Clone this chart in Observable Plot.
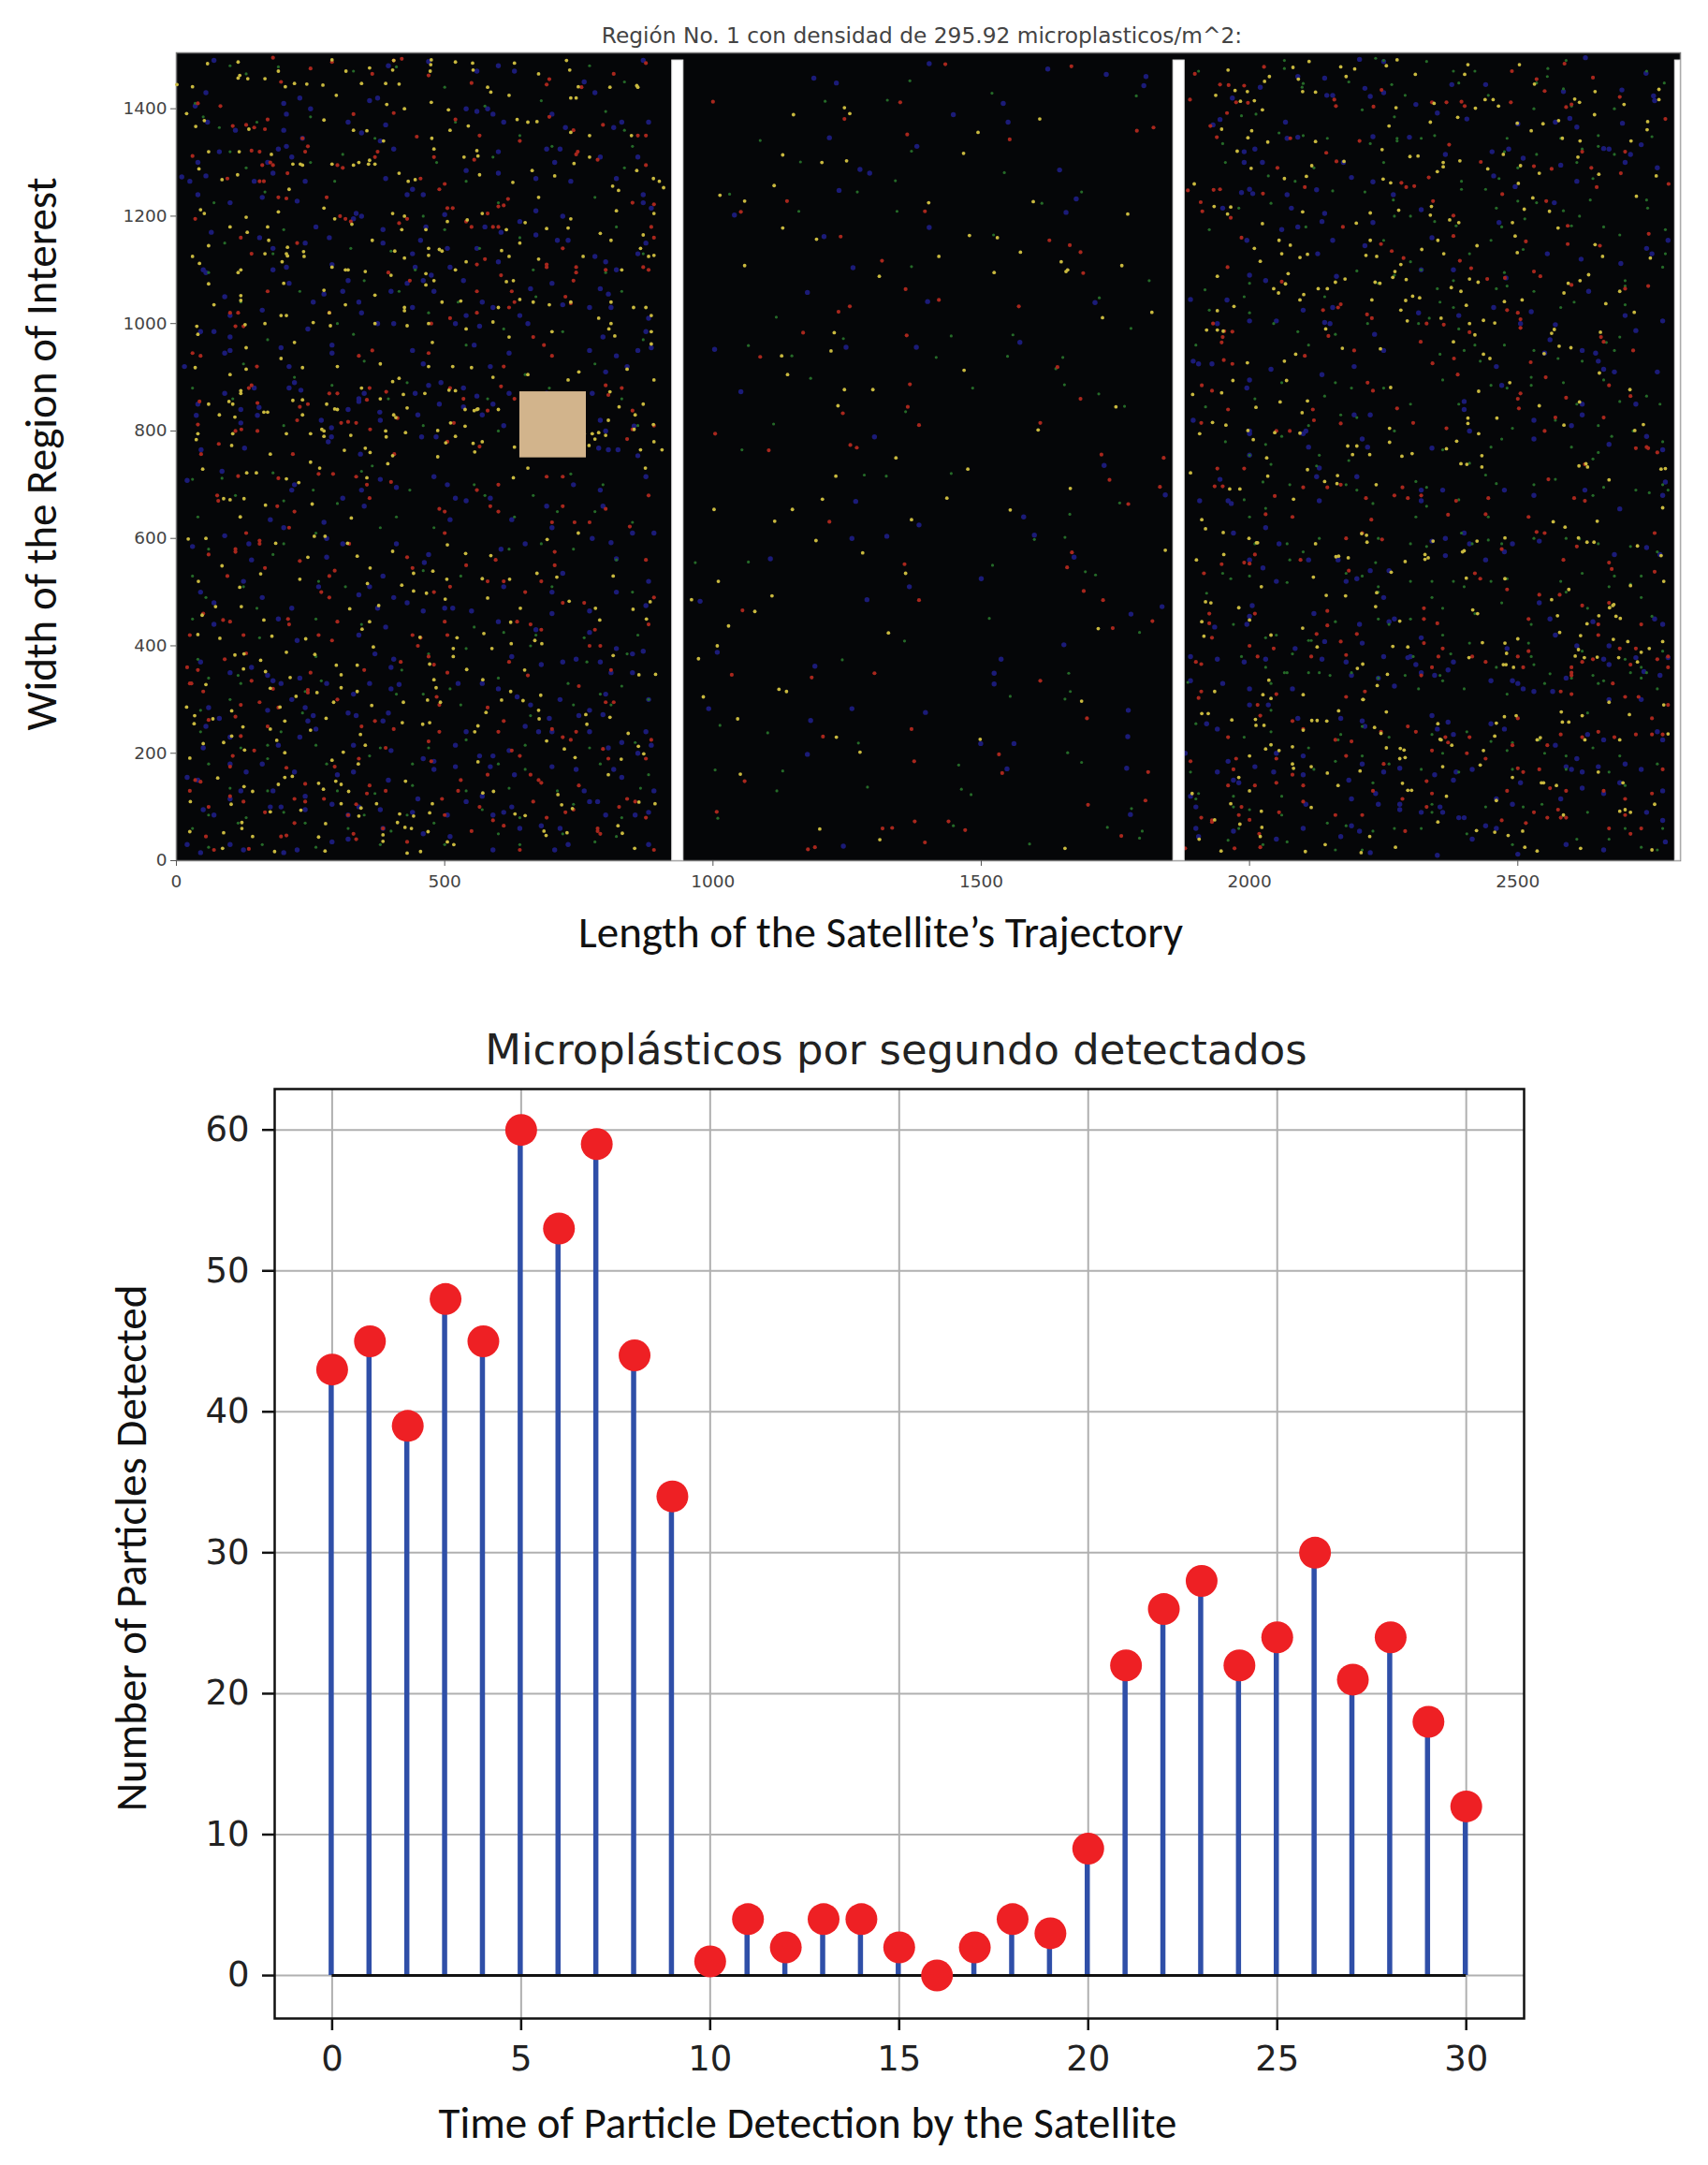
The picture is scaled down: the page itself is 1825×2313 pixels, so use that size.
<!DOCTYPE html>
<html>
<head>
<meta charset="utf-8">
<script src="https://cdn.jsdelivr.net/npm/d3@7"></script>
<script src="https://cdn.jsdelivr.net/npm/@observablehq/plot@0.6"></script>
<style>
html,body{margin:0;padding:0;background:#fff;}
svg{display:block;}
</style>
</head>
<body>
<div id="top"></div>
<div id="bottom"></div>
<script>
// ---------- Top panel ----------
const topTitle = "Región No. 1 con densidad de 295.92 microplasticos/m^2:";
const topXLabel = "Length of the Satellite’s Trajectory";
const topYLabel = "Width of the Region of Interest";
const topXTicks = [0,500,1000,1500,2000,2500];
const topYTicks = [0,200,400,600,800,1000,1200,1400];
const whiteBands = [[924,945],[1858,1879],[2793,2803]];
const tanSquare = [[640,764,750,873]];

const yellowDots = [
// middle band
[1245,1402],[1255,1391],[1150,1389],[1609,1381],[1494,1356],[1467,1317],[1130,1314],[1203,1300],[1249,1303],[1114,1257],[1013,1239],[1059,1228],[1402,1225],[1597,1227],[1773,1204],[1130,1178],[1193,1157],[1478,1164],[1530,1160],[1573,1133],[1421,1125],[1059,1108],[1649,1115],[1762,1108],[1524,1095],[1310,1088],[1661,1100],[1658,1097],[1818,1021],[1726,1011],[1226,983],[1220,949],[1128,940],[1139,905],[1468,913],[1245,877],[1298,877],[1233,847],[1751,845],[1606,802],[1341,750],
[1229,716],[1475,729],[1666,693],[1204,673],[1436,675],[1002,654],[1148,654],[1554,653],[1115,632],[1370,635],[1192,596],[1279,573],[1843,578],[1359,535],[1010,520],[960,486],[1110,493],[1078,464],[1029,437],[1327,424],[1718,432],[1008,400],[973,376],[1123,319],[1137,315],[982,305],[1046,264],[1687,297],[1230,230],[1498,226],[1274,202],[1051,161],[1199,59],[1311,39],[1656,23],
// right, upper
[1960,1472],[2111,1488],[2081,1477],[2037,1460],[2091,1455],[2028,1451],[1973,1434],[1996,1432],[1937,1425],[2009,1415],[1983,1414],[2099,1432],[2123,1431],[2170,1478],[2196,1474],[2180,1460],[2275,1491],[2255,1480],[2309,1464],[2407,1482],[2401,1464],[2503,1482],[2531,1446],[2644,1432],[2763,1436],[2763,1417],[2698,1408],[2615,1412],[2606,1418],[2439,1417],[2454,1417],[2464,1405],[2421,1401],[2344,1410],[2273,1402],[2388,1384],[2337,1375],[2260,1368],[2643,1389],[2742,1376],[2741,1361],[2499,1373],[2547,1372],[2576,1378],[2525,1359],[2583,1345],[2616,1340],[2711,1340],[2024,1398],[1948,1362],[2004,1359],[1997,1346],[2034,1338],[2123,1339],[1977,1321],[2003,1289],[2116,1294],[2247,1324],[2299,1311],[2314,1312],[2361,1300],[2361,1292],[2392,1303],[2176,1302],[2350,1283],[2473,1315],[2612,1310],[2505,1294],[2444,1288],[2540,1280],[2651,1278],[2758,1275],[1897,1260],[2065,1270],[2106,1274],[2249,1269],[2263,1262],[2501,1261],[2528,1234],[2721,1237],[1934,1218],[1965,1217],[1959,1204],[2099,1208],[2225,1206],[2278,1211],[2339,1218],[2337,1202],[2373,1193],[2390,1188],[2512,1213],[2559,1209],[2024,1186],[2199,1187],[2490,1188],[2575,1178],[2055,1155],[2225,1155],[2351,1155],[2495,1163],[2009,1140],[2076,1146],[2321,1138],[2424,1145],[2644,1147],[2060,1130],[2108,1129],[2094,1123],[2217,1127],[2237,1125],[2362,1130],[2499,1132],[2658,1125],[2747,1122],[2020,1116],[2282,1110],[2072,1093],[1940,1088],[2271,1097],[2267,1086],[2292,1082],[2178,1083],[2160,1077],[2234,1077],[2243,1075],[2410,1083],[2426,1077],[2632,1091],[2616,1080],[2594,1075],[2067,1074],[2045,1065],[2054,1057],[2128,1065],[2145,1065],[2101,1054],[2094,1044],[2376,1067],[2394,1060],[2586,1057],[2304,1051],[2317,1048],[2228,1044],[2291,1043],[2508,1044],[2475,1041],[2690,1060],[2664,1037],[1971,1032],[1940,1024],[2282,1025],[2404,1034],[2717,1021],[2294,1005],[2357,1010],[2410,1000],[2436,1006],[2457,1001],[1920,988],[1940,988],[1951,986],[2142,990],[2568,989],[2563,982],[2654,984],[2420,979],[2380,966],[2577,958],[2599,955],[2173,954],[2244,953],[2086,943],[2549,944],[2436,943],[2448,935],[2065,930],[1996,927],[2652,908],[2485,890],[1969,894],[2069,894],[2263,881],[1948,871],[2427,874],[2709,877],[1894,868],[2108,856],[2057,854],[2615,854],[2540,847],[2012,844],[2098,834],[2407,824],[2461,824],[2407,814],[2586,811],[2734,812],[1931,816],[1956,811],[2261,805],[1997,801],[2427,795],[2718,801],[1907,795],[2047,797],[2094,796],[2007,784],[2386,781],[2261,779],[2183,772],[2200,772],[2367,767],[2192,756],[2224,756],[2303,758],[2284,753],[2433,754],[2032,750],
// right, lower
[1890,722],[2108,728],[2140,706],[2164,717],[2034,716],[2163,702],[1963,692],[1982,692],[2082,673],[2236,700],[2405,738],[2394,739],[2433,733],[2627,739],[2614,735],[2630,733],[2670,709],[2770,657],[2775,730],[2767,729],[1911,635],[1918,618],[1951,611],[2013,592],[1999,600],[2123,590],[2209,609],[2218,606],[2219,593],[2342,595],[2327,570],[2400,577],[2397,575],[2424,595],[2476,601],[2566,631],[2588,621],[2648,632],[2613,601],[2629,593],[2642,593],[2723,586],[2772,520],[1901,560],[1952,570],[2015,592],[2119,528],[2166,567],[2161,566],[2184,564],[2290,557],[2264,537],[2333,564],[2327,561],[2404,526],[2476,525],[2595,505],[2710,512],[2767,568],[2022,510],[1918,482],[1928,480],[1980,471],[2143,494],[2179,493],[2237,499],[2235,473],[2280,446],[2416,467],[2425,460],[2563,486],[2574,456],[2629,441],[2651,456],[2671,471],[2677,475],[2679,477],[2683,455],[2691,451],[2000,448],[1911,445],[1915,418],[2099,433],[2040,420],[2434,406],[2478,365],[2479,386],[2578,425],[2617,419],[2613,393],[2678,412],[2705,408],[2730,388],[2770,408],[2126,398],[2267,399],[2295,398],[2409,378],[2473,365],[2492,360],[2476,405],[2500,413],[2607,381],[2624,378],[2648,379],[2688,378],[2723,370],[2745,395],[2100,309],[2211,366],[2201,358],[2238,326],[2257,347],[1935,315],[2036,336],[2040,302],[2025,309],[1923,274],[1911,274],[1967,262],[2011,263],[2012,252],[2027,252],[2116,261],[2126,261],[2144,260],[2166,279],[2211,300],[2212,300],[2255,277],[2233,248],[2245,237],[2351,255],[2355,226],[2377,215],[2457,232],[2460,256],[2475,268],[2497,270],[2581,277],[2583,258],[2595,258],[2620,270],[2670,295],[2708,272],[2772,290],[2040,216],[2030,208],[2055,205],[2080,212],[2100,243],[2255,210],[2281,209],[2288,206],[2436,205],[2357,225],[2542,229],[2536,225],[2625,225],[2690,225],[2780,236],[2000,195],[1980,155],[2080,180],[2082,172],[2115,175],[2145,163],[2206,167],[2280,190],[2290,192],[2360,175],[2430,178],[2490,155],[2548,145],[2572,140],[2650,165],[2696,145],[1893,125],[2000,130],[2165,140],[2285,144],[2295,131],[2302,131],[2367,120],[2460,112],[2544,145],[1965,106],[2022,92],[2115,99],[2700,95],[2755,105],[2585,85],[2690,92],[2710,90],[1935,76],[1982,68],[2023,62],[2020,45],[1906,40],[2141,30],[2224,45],[2351,72],[2423,56],[2457,53],[2482,47],[2509,55],[1947,18],[2104,17],[2208,15],[2272,25],[2513,25],[2536,18],[2617,23],[2750,20],
// left, lower
[49,729],[131,722],[149,722],[205,711],[228,704],[267,731],[355,713],[88,674],[100,672],[126,674],[166,662],[253,664],[326,638],[119,640],[55,600],[22,599],[257,604],[277,604],[319,591],[185,591],[245,565],[337,567],[403,576],[505,588],[539,572],[586,568],[691,598],[749,610],[85,549],[157,534],[230,524],[361,545],[442,535],[478,539],[504,524],[570,525],[621,524],[672,535],[709,528],[814,530],[41,520],[118,509],[356,516],[420,513],[442,502],[466,498],[501,487],[580,489],[732,483],[883,482],[73,473],[121,473],[323,469],[377,475],[641,470],[781,470],[851,468],[48,457],[163,448],[360,445],[623,444],[789,448],[876,450],[40,421],[81,414],[178,418],[241,413],[346,431],[454,416],[523,415],[573,423],[668,410],[109,383],[126,385],[205,388],[258,384],[367,398],[516,395],[588,395],[624,404],[681,404],[814,382],[157,373],[298,364],[337,364],[472,366],[516,380],[649,355],[125,357],[166,352],[212,341],[307,346],[541,356],[862,346],[893,347],[480,337],[571,337],[55,328],[175,321],[307,322],[484,322],[623,315],[337,315],[262,313],[679,308],[223,306],[468,299],[423,295],[492,295],[606,299],[646,298],[19,286],[103,279],[34,270],[193,286],[293,295],[364,289],[675,280],[577,276],[202,260],[68,264],[279,265],[421,257],[459,254],[472,257],[676,264],[763,272],[808,267],[124,249],[33,255],[175,245],[250,243],[562,251],[556,240],[765,254],[103,232],[187,224],[343,235],[690,223],[842,237],[50,218],[88,220],[352,215],[127,206],[202,201],[311,202],[723,208],[861,213],[871,199],[25,191],[290,187],[339,180],[562,184],[829,189],[743,192],[77,154],[202,155],[216,157],[805,160],[190,142],[126,138],[265,144],[297,148],[307,142],[427,148],[274,133],[321,129],[591,129],[571,126],[142,129],[711,123],[26,110],[102,105],[175,91],[232,94],[307,106],[344,98],[373,106],[477,106],[718,104],[738,97],[862,109],[416,87],[442,83],[472,89],[631,87],[650,84],[892,106],[122,71],[340,83],[278,69],[122,60],[412,71],[426,62],[438,60],[469,54],[823,65],[685,55],[25,54],[88,52],[142,45],[265,44],[385,48],[689,47],[728,52],[831,51],[505,35],[517,30],[385,36],[86,23],[183,17],[277,18],[430,14],[455,17],[854,23],
[250,742],[394,739],[655,731],[874,731],[628,713],
// left, upper
[58,1484],[115,1487],[115,1457],[118,1462],[133,1456],[190,1470],[165,1456],[290,1491],[316,1470],[360,1476],[403,1472],[405,1490],[474,1482],[473,1470],[475,1491],[552,1485],[553,1472],[520,1487],[630,1485],[727,1490],[675,1465],[733,1472],[860,1440],[858,1443],[1,1445],[30,1441],[203,1441],[220,1447],[243,1446],[273,1444],[345,1447],[390,1447],[415,1446],[298,1425],[392,1408],[425,1400],[475,1412],[507,1398],[580,1440],[586,1431],[620,1425],[735,1420],[745,1420],[749,1441],[808,1440],[19,1391],[52,1378],[36,1367],[135,1362],[275,1379],[330,1360],[355,1359],[386,1340],[476,1345],[544,1368],[510,1360],[635,1380],[655,1375],[672,1376],[735,1356],[770,1350],[848,1350],[60,1320],[117,1320],[177,1315],[231,1297],[235,1295],[360,1304],[370,1297],[480,1325],[560,1322],[562,1312],[536,1310],[663,1285],[705,1275],[741,1298],[770,1310],[858,1285],[889,1270],[42,1288],[85,1268],[114,1277],[217,1297],[210,1250],[290,1297],[330,1295],[340,1300],[358,1297],[415,1280],[432,1265],[445,1268],[565,1277],[627,1263],[675,1235],[813,1256],[824,1248],[900,1265],[908,1253],[45,1212],[52,1205],[130,1198],[132,1170],[170,1180],[190,1208],[275,1215],[295,1195],[327,1185],[403,1205],[425,1200],[465,1175],[505,1190],[542,1193],[570,1205],[615,1175],[650,1188],[730,1178],[735,1195],[790,1168],[820,1210],[890,1205],[60,1145],[100,1180],[172,1155],[207,1142],[165,1130],[205,1130],[237,1134],[365,1155],[420,1175],[470,1140],[490,1138],[640,1150],[690,1177],[810,1155],[865,1140],[870,1165],[30,1125],[43,1112],[120,1100],[115,1095],[197,1115],[207,1126],[238,1125],[290,1105],[315,1100],[407,1135],[425,1122],[465,1093],[470,1127],[495,1135],[620,1125],[540,1115],[606,1136],[675,1120],[758,1125],[880,1125],[890,1127],[60,1074],[275,1062],[320,1100],[352,1097],[480,1080],[615,1078],[628,1080],[830,1100],[70,1035],[120,1052],[120,1043],[200,1075],[400,1090],[465,1072],[520,1100],[665,1040],[735,1040],[810,1040],[205,1015],[195,1015],[255,1002],[285,1020],[315,1035],[370,1053],[425,1030],[495,1040],[425,1024],[530,1042],[600,1030],[640,1045],[695,1035],[787,1010],[810,1000],[852,1030],[875,1030],[38,995],[40,980],[128,998],[130,955],[165,1000],[220,965],[287,996],[370,1000],[430,996],[477,965],[470,1000],[540,990],[590,1003],[620,975],[700,985],[806,990],[817,977],[885,985],[885,1015],[885,962],[35,918],[100,905],[120,870],[130,915],[195,935],[235,918],[300,920],[380,925],[415,898],[470,920],[515,920],[550,918],[590,900],[655,905],[730,895],[750,910],[840,915],[890,895],[60,850],[80,830],[105,850],[120,875],[170,835],[235,830],[280,850],[300,840],[345,880],[380,860],[405,830],[520,875],[560,840],[600,840],[805,820],[825,845],[870,850],[855,830],[40,795],[105,795],[205,795],[275,790],[275,800],[390,800],[520,790],[570,780],[630,770],[655,775],[760,795],[780,785],[800,792],[890,780],[865,765],[905,765],
[775,795],[787,797],[769,773],[511,815],[538,809],[487,801],[555,838],[562,841],[538,840],[409,825],[430,843],[295,841],[271,803],[250,795],[325,792],[391,789],[427,797],[502,778],[553,777],[556,761],[487,752],[403,754],[361,760],[352,768],[313,764],[175,757],[103,773],[37,784],[163,835],[109,826],[235,858],[217,857],[98,855],[508,876],[463,870],[423,868],[403,892],[853,803],[889,812],[808,873]
];
const redDots = [
// middle band
[1433,1483],[1668,1479],[1000,1413],[1349,1412],[1245,1381],[1362,1352],[1553,1343],[1790,1359],[1821,1365],[1138,1228],[1052,1208],[1395,1209],[1238,1162],[1627,1155],[1665,1146],[1685,1133],[1315,1117],[1690,1094],[1359,1064],[1421,1044],[1255,1032],[1234,1022],[1570,1032],[1168,983],[1361,978],[1088,938],[1642,919],[1367,887],[1685,860],[1363,845],[1242,833],[1384,811],[1610,815],[1004,795],[1104,764],[1256,774],[1268,769],[1724,756],[1840,750],
[1739,709],[1833,696],[1774,664],[1217,631],[1669,574],[1357,552],[1660,546],[1384,485],[1691,502],[1727,485],[1055,466],[1819,446],[1745,433],[1035,346],[1184,341],[1301,349],[1610,335],[1697,265],[1370,245],[1205,231],[1533,198],[1375,185],[1811,165],[1539,163],[1059,148],[1806,112],[1699,104],[1007,91],[1376,73],[1439,73],[1470,57],[1316,60],[1334,61],[1395,34],[1761,46],[1177,21],[1190,25],
// right, upper
[1898,1465],[2027,1478],[1945,1445],[1961,1444],[1990,1443],[1975,1412],[1997,1411],[1889,1417],[2158,1417],[2161,1405],[2231,1404],[2246,1435],[2395,1413],[2367,1412],[2340,1412],[2401,1405],[2487,1412],[2489,1470],[2587,1484],[2535,1455],[2550,1433],[2640,1458],[2590,1403],[2600,1408],[2690,1422],[2775,1381],[1958,1392],[1927,1368],[1939,1347],[2076,1345],[2205,1340],[2372,1333],[2143,1318],[2162,1302],[2431,1301],[2530,1293],[2563,1288],[2637,1290],[2620,1320],[2700,1320],[2052,1290],[1885,1248],[1933,1249],[1945,1250],[2025,1242],[2103,1254],[2283,1262],[2292,1254],[2307,1256],[2334,1272],[2342,1228],[2553,1228],[2471,1241],[2692,1280],[2781,1260],[2647,1254],[1909,1226],[1912,1209],[1965,1197],[2380,1201],[2174,1180],[2380,1163],[2515,1153],[2593,1182],[2744,1167],[1985,1160],[2245,1148],[2593,1148],[2653,1145],[2265,1135],[2287,1122],[2392,1117],[2413,1103],[1959,1105],[2530,1097],[2542,1088],[2600,1072],[2700,1065],[2743,1070],[2060,1078],[2443,1083],[2476,1085],[2137,1025],[2165,1030],[2170,1036],[2219,1017],[2228,1010],[2330,1000],[2362,998],[2480,1025],[2500,1020],[2505,1008],[1932,1000],[1953,986],[1968,985],[1948,965],[1950,975],[2147,977],[2319,966],[2410,984],[2505,992],[2655,975],[2660,966],[2715,950],[2195,950],[2103,940],[1952,932],[1968,925],[2381,935],[2341,926],[2524,928],[2388,905],[2552,900],[1911,885],[2220,890],[2230,875],[2590,862],[2500,860],[1930,875],[2505,870],[2670,885],[2710,865],[1960,840],[2118,840],[2120,820],[2275,842],[2502,842],[2570,825],[2660,825],[1910,815],[2170,814],[2305,815],[2367,805],[2050,800],[2075,800],[2550,800],[2740,770],[2625,738],[2720,768],[2743,768],[2760,760],
// right, lower
[1940,730],[1990,730],[1935,697],[1950,697],[2047,679],[2100,695],[2145,695],[2170,700],[2270,680],[2285,695],[2295,675],[2320,680],[2385,670],[2180,600],[2217,675],[1948,552],[2030,645],[2080,640],[2227,635],[2370,644],[2440,645],[2445,675],[2520,640],[2557,710],[2605,675],[2625,670],[1915,535],[2010,570],[2000,553],[2095,560],[2185,540],[2210,610],[2247,598],[2420,535],[2430,525],[2470,580],[2535,612],[2550,610],[2578,495],[2585,560],[2670,555],[2675,543],[2755,610],[2755,538],[1930,415],[1925,442],[1925,460],[1990,555],[2010,460],[2145,465],[2145,438],[2125,422],[2200,422],[2350,442],[2325,470],[2325,450],[2520,390],[2480,505],[2620,475],[2520,450],[2540,495],[2610,585],[2650,440],[2670,480],[2650,420],[2720,395],[2730,440],[2780,380],[1900,370],[1910,366],[2000,400],[2045,395],[2015,380],[2115,380],[2170,408],[2180,383],[2325,405],[2352,380],[2340,360],[2360,395],[2415,380],[2440,370],[2500,380],[2510,360],[2600,350],[2600,360],[2620,370],[2640,375],[2690,395],[2710,365],[2760,375],[1905,303],[1910,315],[2015,290],[2050,310],[2180,305],[2215,315],[2320,345],[2295,250],[2500,265],[2580,315],[2600,345],[2600,310],[2677,330],[2700,305],[2780,290],[2780,360],[2725,305],[2750,265],[2020,270],[2080,260],[1960,230],[2050,190],[2100,245],[2160,225],[2190,222],[2245,240],[2310,240],[2365,230],[2370,220],[2410,230],[2490,215],[2555,215],[2580,235],[2620,230],[2650,240],[2680,230],[2720,235],[2750,235],[2770,235],[1890,185],[1975,190],[1970,170],[2080,160],[2180,195],[2250,180],[2340,205],[2405,200],[2440,190],[2510,165],[2500,172],[2540,170],[2770,170],[1960,140],[2010,140],[2050,145],[2100,140],[2230,130],[2330,148],[2340,125],[2480,130],[2560,135],[2590,130],[2660,130],[2700,115],[2750,125],[1985,100],[1980,85],[1910,80],[1930,75],[1930,72],[2000,76],[2055,90],[2100,110],[2160,85],[2210,85],[2285,115],[2330,100],[2470,75],[2530,90],[2555,80],[2580,80],[2590,80],[2575,95],[2700,85],[2730,60],[2710,50],[1880,23],[1972,23],[2018,50],[2020,25],[2290,55],[2515,70],[2670,60],
// left, lower
[115,716],[190,712],[265,720],[292,720],[335,715],[355,700],[400,705],[560,690],[600,700],[690,715],[720,715],[76,680],[78,670],[188,660],[220,650],[360,675],[585,660],[490,655],[500,650],[600,650],[720,660],[880,680],[800,655],[742,630],[130,610],[155,590],[155,596],[210,620],[322,590],[500,610],[700,630],[770,630],[845,622],[60,570],[110,580],[110,575],[230,558],[430,565],[595,560],[705,575],[875,560],[95,530],[165,545],[295,540],[285,530],[440,545],[540,550],[580,520],[680,520],[705,550],[270,500],[285,490],[480,500],[510,510],[610,520],[650,500],[720,480],[760,480],[890,490],[50,460],[87,448],[100,445],[208,450],[210,440],[300,445],[500,445],[505,420],[635,445],[660,440],[680,430],[780,430],[880,440],[90,375],[130,386],[25,420],[125,420],[265,420],[290,410],[440,420],[455,415],[450,400],[470,380],[480,365],[770,400],[790,400],[20,360],[40,355],[250,350],[418,370],[505,350],[620,370],[655,345],[810,355],[25,330],[28,330],[140,335],[180,320],[245,318],[350,355],[245,313],[750,325],[50,315],[120,290],[155,295],[190,285],[300,300],[485,305],[490,290],[800,295],[815,295],[110,268],[60,262],[370,260],[405,245],[580,285],[490,240],[610,260],[700,245],[745,240],[170,250],[120,232],[345,250],[600,240],[720,230],[735,225],[105,195],[145,205],[390,210],[470,222],[640,195],[795,208],[885,225],[100,175],[205,173],[295,175],[340,190],[475,185],[580,160],[625,205],[660,160],[805,190],[875,190],[35,150],[45,147],[240,143],[360,140],[530,150],[675,150],[680,145],[750,140],[25,130],[100,120],[240,110],[355,125],[390,130],[525,130],[855,110],[840,115],[60,100],[125,110],[220,115],[275,115],[335,105],[495,115],[665,110],[740,95],[825,100],[165,90],[320,85],[500,85],[565,100],[725,90],[875,80],[220,70],[385,60],[590,75],[610,65],[690,80],[785,55],[55,45],[195,45],[205,47],[330,50],[335,40],[430,35],[550,55],[785,60],[790,50],[70,20],[135,22],[640,20],[890,20],
// left, upper
[180,1495],[290,1487],[405,1490],[420,1493],[875,1485],[250,1475],[195,1450],[365,1465],[470,1462],[550,1448],[695,1455],[690,1445],[755,1440],[815,1465],[40,1410],[82,1405],[170,1380],[130,1370],[105,1368],[145,1365],[165,1362],[235,1345],[245,1330],[405,1392],[330,1390],[448,1348],[565,1350],[640,1340],[520,1380],[695,1385],[740,1360],[795,1370],[860,1350],[875,1350],[175,1300],[155,1320],[140,1322],[240,1320],[160,1295],[180,1295],[370,1310],[375,1320],[480,1310],[555,1305],[748,1320],[745,1315],[785,1305],[875,1295],[30,1312],[95,1270],[163,1265],[155,1265],[207,1280],[300,1295],[310,1290],[455,1270],[490,1250],[500,1260],[618,1232],[610,1220],[600,1218],[505,1215],[515,1215],[580,1205],[890,1222],[850,1225],[190,1235],[280,1235],[205,1233],[325,1190],[315,1195],[305,1200],[415,1187],[430,1195],[540,1190],[550,1180],[35,1195],[120,1160],[140,1130],[225,1150],[590,1180],[600,1180],[885,1180],[890,1160],[720,1140],[560,1110],[575,1120],[690,1110],[395,1095],[435,1080],[605,1090],[560,1060],[690,1105],[745,1105],[870,1105],[880,1100],[170,1060],[740,1080],[745,1095],[800,1100],[620,1030],[625,1060],[630,1040],[100,1020],[115,1020],[725,1050],[735,1038],[110,995],[125,995],[285,1020],[475,1000],[510,1010],[560,1020],[45,940],[30,945],[340,940],[365,950],[470,945],[665,975],[685,960],[700,940],[610,920],[135,880],[140,885],[285,870],[300,870],[510,880],[605,883],[630,860],[800,885],[830,880],[150,920],[230,845],[245,850],[355,858],[225,820],[535,860],[580,838],[320,817],[335,815],[360,880],[110,800],[890,810],[840,785],[505,780],
[517,815],[412,824],[391,873],[307,815],[361,803],[151,800],[79,776],[121,803],[40,812],[46,757],[217,757],[406,757],[565,771],[850,838],[850,803],[805,867],[151,852],[43,855]
];
const blueDots = [
// middle band
[1403,1484],[1624,1474],[1733,1464],[1807,1460],[1803,1443],[1188,1457],[1230,1448],[1541,1410],[1448,1389],[1550,1375],[1217,1346],[1380,1330],[1274,1287],[1292,1280],[1646,1286],[1235,1248],[1677,1232],[1658,1207],[1040,1202],[1403,1179],[1207,1162],[1261,1104],[1176,1058],[1400,1041],[1712,1039],[1572,965],[1003,952],[1248,956],[1379,956],[1052,873],[1301,789],
[1729,736],[1843,681],[1266,669],[1579,640],[1384,625],[1599,606],[1259,600],[1324,604],[1107,562],[1673,565],[1500,525],[1366,510],[976,483],[1287,486],[1837,473],[1779,459],[1654,402],[1008,388],[1537,375],[1190,362],[1524,349],[1524,329],[992,283],[1259,283],[1396,276],[1182,261],[1774,280],[1773,231],[1499,218],[1561,218],[1176,198],[1548,171],[1771,172],[1778,86],[1243,27],
// right, upper
[2205,1492],[2250,1488],[2626,1495],[2739,1466],[2140,1457],[2144,1425],[2090,1460],[1968,1420],[2020,1440],[2215,1438],[2250,1430],[2225,1423],[2377,1445],[2440,1445],[2585,1432],[2694,1435],[2753,1424],[2755,1415],[2155,1425],[2310,1408],[2350,1392],[2405,1381],[2500,1372],[2570,1375],[2597,1382],[2610,1366],[2695,1373],[1932,1370],[1945,1380],[2067,1375],[2070,1345],[2090,1347],[1990,1320],[2010,1325],[2230,1348],[2298,1347],[2365,1315],[2452,1320],[2483,1325],[2660,1326],[2670,1325],[2710,1315],[2730,1333],[1990,1300],[2024,1300],[2175,1300],[2510,1308],[2580,1295],[2760,1290],[2000,1250],[2070,1240],[1985,1244],[2006,1242],[2125,1249],[2190,1272],[2230,1264],[2268,1240],[2495,1255],[2610,1265],[2700,1300],[2455,1275],[2078,1215],[1950,1215],[2140,1205],[2135,1190],[2320,1212],[2230,1188],[2060,1175],[2090,1180],[2465,1188],[2568,1225],[2340,1160],[2155,1155],[2215,1145],[1995,1155],[2127,1130],[2740,1140],[2750,1130],[2780,1155],[2555,1130],[2618,1120],[2692,1112],[2000,1090],[2030,1080],[2162,1088],[2320,1100],[2380,1100],[2478,1085],[2632,1060],[1890,1045],[1958,1044],[2100,1025],[2155,1030],[2315,1020],[2390,1015],[2455,1030],[2525,1022],[2700,1015],[2770,1005],[2000,1005],[2050,1005],[1940,1000],[2140,1002],[2505,1000],[2570,998],[2720,987],[2660,915],[2620,950],[2233,980],[2150,1000],[2560,970],[2550,945],[2645,945],[1895,930],[1905,925],[1930,925],[2040,915],[2195,920],[2250,950],[2460,920],[2650,930],[2680,910],[2760,910],[2135,905],[2000,895],[1995,880],[2400,855],[2470,885],[2720,850],[2000,800],[2195,830],[2400,840],[2620,850],[2620,830],[2225,830],[1895,820],[2410,800],[2530,820],[2600,810],[2000,795],[2100,795],[2105,800],[2210,785],[2530,785],[2670,775],[2740,790],[2770,765],[2220,770],[2000,755],[2110,770],[2340,768],
// right, lower
[2130,731],[2125,715],[2200,715],[1945,710],[1907,670],[1960,670],[1966,665],[2130,670],[2360,690],[2320,690],[2320,670],[2475,690],[2530,680],[2625,690],[2690,655],[2770,680],[2775,705],[2030,620],[1970,610],[2000,560],[2055,590],[2025,545],[2110,560],[2165,560],[2225,540],[2260,540],[2340,595],[2365,600],[2365,568],[2400,610],[2410,590],[2440,560],[2475,575],[2490,590],[2540,595],[2680,570],[2740,583],[2765,570],[2200,525],[2180,520],[2250,490],[2260,445],[2050,520],[2005,475],[1995,440],[2000,455],[1935,435],[2120,460],[2205,440],[2140,408],[2210,405],[2250,380],[2270,450],[2295,378],[2320,415],[2540,480],[2560,450],[2570,420],[2640,445],[2610,400],[2670,400],[2755,450],[2770,440],[1890,380],[1940,375],[1990,370],[2030,375],[2085,395],[2135,375],[2180,370],[2300,380],[2310,365],[2380,370],[2370,355],[2490,335],[2480,395],[2590,340],[2660,375],[2670,365],[2720,378],[2735,352],[2780,378],[1890,335],[2000,320],[1950,330],[2080,320],[2190,345],[2240,340],[2270,325],[2345,345],[2320,350],[2450,335],[2500,330],[2510,320],[2530,315],[2565,315],[2670,300],[2730,300],[2765,345],[2000,290],[2035,290],[1920,255],[1940,245],[2090,265],[2170,265],[2210,260],[2215,250],[2340,270],[2350,245],[2370,258],[2380,235],[2450,255],[2475,245],[2570,215],[2630,235],[2660,225],[2760,240],[2770,225],[1880,200],[1960,185],[2010,175],[2050,200],[2100,195],[2210,180],[2250,165],[2280,172],[2385,165],[2380,150],[2415,170],[2590,175],[2600,170],[2610,190],[2620,165],[2650,175],[2700,180],[2730,170],[2770,130],[1940,165],[1970,150],[1980,145],[2045,165],[2100,160],[2185,150],[2235,125],[2345,160],[2505,145],[2620,135],[2690,145],[1890,120],[1900,100],[2105,105],[2190,115],[2240,105],[2280,105],[2355,100],[2460,115],[2490,105],[2580,115],[2660,125],[2770,75],[2740,90],[1900,60],[1905,45],[1970,55],[2050,40],[2100,60],[2170,45],[2190,65],[2205,55],[2280,95],[2320,90],[2360,90],[2390,80],[2400,80],[2415,40],[2440,65],[2460,60],[2590,30],[2660,20],[2775,35],[2225,15],[2350,10],[2500,12],
// left, lower
[20,708],[85,725],[220,700],[310,675],[345,690],[350,660],[215,690],[175,635],[200,620],[275,630],[380,710],[410,695],[480,715],[505,700],[520,675],[540,670],[585,675],[625,635],[690,660],[740,700],[790,690],[795,660],[875,715],[30,585],[90,605],[140,560],[135,590],[280,565],[280,600],[310,590],[410,590],[462,555],[470,570],[510,635],[605,580],[650,590],[700,620],[775,600],[810,592],[820,562],[850,610],[890,610],[880,520],[70,480],[45,500],[125,520],[160,490],[215,470],[265,510],[340,495],[375,470],[360,510],[385,530],[405,490],[430,480],[500,470],[550,465],[610,510],[700,500],[720,535],[770,465],[820,500],[875,475],[70,440],[190,450],[225,410],[340,420],[390,435],[460,465],[515,470],[600,445],[670,430],[700,460],[770,425],[820,395],[850,385],[870,390],[45,370],[100,350],[140,360],[170,345],[180,335],[195,330],[230,340],[370,385],[400,360],[405,375],[625,380],[680,365],[720,370],[745,375],[790,370],[810,350],[850,350],[60,285],[215,300],[240,285],[280,330],[330,310],[360,330],[400,320],[415,328],[525,330],[570,330],[600,320],[635,305],[660,290],[695,265],[715,300],[750,270],[770,280],[795,272],[800,310],[880,300],[55,250],[80,265],[170,280],[245,260],[255,270],[260,245],[320,275],[335,270],[385,260],[395,275],[540,240],[650,250],[700,240],[770,240],[875,240],[885,215],[50,210],[100,230],[190,215],[230,230],[330,215],[400,205],[460,190],[480,185],[520,215],[565,195],[590,195],[620,205],[675,240],[805,210],[830,220],[860,200],[100,180],[160,180],[130,165],[220,165],[300,160],[330,165],[395,150],[480,170],[520,175],[585,175],[630,160],[700,175],[745,170],[815,170],[830,155],[890,130],[20,155],[40,150],[120,130],[100,115],[180,130],[240,120],[290,105],[340,100],[380,95],[450,115],[540,110],[570,120],[625,100],[760,130],[770,110],[785,110],[855,85],[50,95],[70,85],[175,100],[195,100],[240,95],[320,85],[440,90],[505,85],[590,85],[610,90],[640,60],[680,65],[715,60],[800,85],[880,90],[20,30],[45,15],[100,30],[125,20],[200,15],[225,20],[290,35],[320,40],[385,60],[460,50],[510,45],[590,20],[705,20],[730,30],[880,30],
// left, upper
[70,1490],[470,1488],[395,1480],[560,1470],[600,1480],[630,1470],[870,1490],[760,1450],[780,1430],[375,1420],[360,1415],[200,1410],[250,1400],[230,1420],[55,1430],[35,1405],[58,1375],[110,1360],[200,1360],[205,1390],[320,1375],[390,1370],[540,1400],[560,1395],[580,1400],[590,1390],[610,1375],[700,1390],[725,1365],[815,1365],[880,1375],[40,1300],[80,1320],[170,1300],[190,1325],[205,1330],[215,1310],[235,1345],[345,1355],[380,1340],[405,1325],[600,1320],[690,1325],[705,1300],[715,1325],[790,1310],[830,1375],[860,1310],[25,1265],[55,1275],[10,1273],[145,1265],[180,1280],[240,1265],[440,1250],[460,1240],[430,1240],[390,1270],[540,1285],[600,1280],[670,1270],[735,1265],[820,1270],[870,1240],[40,1240],[100,1225],[160,1235],[225,1228],[335,1205],[345,1200],[330,1195],[465,1180],[500,1203],[575,1180],[640,1190],[670,1210],[720,1200],[870,1225],[885,1215],[65,1170],[155,1160],[180,1140],[240,1150],[285,1160],[260,1180],[385,1150],[385,1175],[440,1130],[455,1155],[505,1140],[605,1170],[670,1165],[710,1155],[730,1155],[860,1130],[50,1100],[55,1095],[180,1100],[205,1105],[210,1075],[290,1110],[445,1105],[460,1080],[475,1090],[510,1105],[560,1140],[600,1115],[780,1125],[800,1115],[820,1100],[875,1150],[90,1050],[100,1015],[160,1025],[255,1040],[275,1055],[310,1060],[320,1080],[340,1040],[400,1060],[430,1075],[480,1060],[535,1080],[570,1040],[590,1030],[660,1065],[700,1075],[790,1065],[805,1055],[45,985],[70,985],[100,975],[245,990],[290,960],[345,1020],[375,1000],[405,1000],[440,1030],[520,1000],[540,1015],[565,995],[640,1015],[655,1000],[720,1035],[770,1030],[810,1030],[880,1010],[875,985],[15,920],[90,945],[100,950],[195,955],[210,920],[290,945],[440,950],[460,925],[555,960],[585,920],[620,945],[770,950],[795,975],[820,940],[860,950],[885,955],[90,870],[145,880],[210,880],[220,890],[340,860],[350,870],[445,870],[470,885],[535,845],[560,865],[590,850],[620,870],[690,870],[775,870],[800,910],[840,920],[40,850],[120,840],[120,815],[270,820],[320,840],[380,820],[450,830],[490,850],[535,880],[570,830],[610,810],[660,825],[710,840],[790,820],[800,800],
[37,829],[151,829],[154,844],[289,789],[289,806],[379,835],[457,789],[484,789],[853,809],[805,765],[787,768],[823,765],[860,754],[232,876],[493,890],[340,855],[343,757],[127,768],[46,765],[283,780]
];
const greenDots = [
// middle band
[1367,1452],[1520,1429],[1789,1424],[1209,1414],[1325,1416],[1088,1341],[1370,1321],[1163,1301],[1543,1281],[1340,1266],[1031,1241],[1269,1245],[1687,1245],[1613,1224],[1160,1209],[1343,1209],[1523,1165],[1370,1106],[1813,1080],[1720,1048],[1118,1012],[1779,991],[1444,977],[1559,979],[1243,972],[1066,959],[1147,940],[1416,937],[1549,939],[1652,937],[1639,916],[1182,898],[1484,880],[1655,886],[1719,869],[1767,846],[1359,836],[1113,813],[1054,765],
[1282,718],[1323,716],[1444,721],[1758,666],[1665,645],[1656,602],[1599,598],[967,555],[1066,556],[1521,550],[1694,538],[1713,532],[1515,451],[1795,425],[1357,409],[1241,374],[1663,349],[1666,315],[1656,301],[1554,306],[1013,252],[1102,238],[1271,219],[1661,201],[1687,183],[1458,178],[1004,169],[1130,167],[1119,130],[1288,137],[1463,133],[1481,123],[1780,97],[1009,79],[1448,65],[1735,62],[1800,55],[1795,42],[1590,31],
// right, upper
[1905,1470],[2065,1490],[2065,1475],[2235,1494],[2250,1490],[2330,1488],[2380,1470],[2420,1470],[2556,1475],[2555,1460],[2590,1490],[2740,1470],[2773,1448],[2098,1440],[2100,1447],[2185,1450],[2265,1445],[2290,1425],[2390,1448],[2535,1448],[2585,1437],[1985,1387],[2012,1390],[2210,1398],[2270,1385],[2445,1425],[2530,1400],[2600,1405],[2680,1400],[1950,1335],[2100,1350],[2145,1345],[2275,1345],[2275,1340],[2320,1345],[2345,1350],[2480,1345],[2580,1345],[2750,1348],[2650,1350],[2650,1330],[2055,1355],[2225,1335],[2475,1320],[2535,1315],[2620,1325],[2680,1315],[2085,1265],[2035,1275],[1955,1300],[2120,1290],[2250,1300],[2395,1265],[2440,1250],[2465,1270],[2500,1290],[2610,1300],[2640,1270],[2740,1230],[2155,1247],[2215,1245],[2268,1230],[2395,1250],[2460,1215],[2500,1228],[2535,1225],[2585,1210],[2635,1230],[2742,1215],[1925,1175],[1980,1215],[2040,1224],[2105,1180],[2270,1200],[2300,1200],[2345,1190],[2385,1182],[2470,1180],[2513,1195],[2600,1182],[2615,1200],[2775,1175],[2250,1155],[2410,1130],[2450,1155],[2510,1138],[2660,1180],[2690,1165],[2775,1130],[2475,1095],[2300,1115],[2320,1100],[2200,1098],[2270,1090],[2380,1080],[2480,1070],[2700,1080],[2770,1105],[1917,1063],[2000,1075],[2240,1075],[2350,1065],[2460,1065],[2530,1060],[2700,1070],[1990,1050],[1925,1025],[2140,1050],[2000,1020],[2355,1040],[2380,1030],[2580,1030],[2605,1040],[2700,1035],[2045,1000],[2090,985],[2160,980],[2220,1000],[2315,1000],[2335,1010],[2390,990],[2420,960],[2475,960],[2530,950],[1900,960],[2110,960],[2355,943],[2400,950],[2665,965],[2690,975],[2430,930],[2525,900],[2575,935],[2620,930],[2680,950],[2190,880],[2250,880],[2360,895],[2480,880],[2525,885],[2660,895],[2140,865],[2060,890],[2160,890],[2390,850],[2585,890],[2450,885],[2690,855],[1918,845],[2010,860],[2300,850],[2610,850],[2740,865],[2765,850],[2170,830],[2200,825],[2270,800],[2490,805],[2570,820],[2650,810],[1955,780],[2030,775],[2060,790],[2110,810],[2470,785],[2715,800],[2770,780],[2675,790],[2000,755],[2130,755],[2360,765],[2450,770],[2600,770],[2650,760],
// right, lower
[2040,738],[2025,705],[2075,700],[2180,700],[2185,745],[2125,735],[2200,690],[2310,706],[2330,695],[2410,740],[2440,718],[2460,702],[2570,710],[2625,738],[2660,695],[2720,690],[2745,685],[2640,748],[2770,700],[1990,672],[2030,656],[2000,640],[2230,665],[2330,660],[2310,640],[2390,672],[2445,640],[2530,700],[2640,680],[2780,690],[2010,590],[2070,590],[2075,560],[2100,575],[2130,600],[2240,600],[2235,555],[2300,590],[2330,585],[2395,610],[2415,590],[2445,597],[2470,590],[2530,600],[2590,600],[2615,599],[2650,590],[2710,585],[2760,575],[1950,535],[1965,525],[2000,530],[2070,518],[2180,535],[2210,530],[2240,510],[2300,520],[2340,520],[2380,520],[2400,510],[2450,520],[2480,525],[2580,520],[2620,535],[2680,530],[2710,515],[2730,530],[1920,498],[1970,440],[2115,410],[2160,445],[2240,500],[2300,450],[2340,490],[2360,470],[2420,460],[2470,480],[2525,440],[2590,500],[2630,470],[2670,510],[2730,490],[2750,455],[2030,415],[2050,420],[2110,410],[2240,450],[2260,440],[2375,385],[2305,380],[2360,420],[2410,405],[2520,405],[2525,380],[2620,390],[2700,375],[2730,360],[2770,390],[1985,380],[2080,385],[2110,350],[2070,350],[2030,360],[2130,350],[2190,350],[2240,340],[2355,345],[2400,320],[2460,360],[2530,365],[2560,348],[2600,340],[2650,330],[2710,350],[2730,340],[2040,330],[2065,350],[1885,332],[2150,345],[2290,345],[2315,320],[2360,335],[2480,310],[2550,330],[2640,345],[2660,335],[2740,350],[2760,320],[2040,280],[1900,255],[2040,240],[2170,235],[2210,250],[2260,230],[2340,235],[2405,240],[2450,222],[2480,205],[2540,225],[2630,275],[2650,240],[2760,180],[1960,230],[1990,230],[2040,215],[2110,210],[2165,225],[2210,195],[2260,180],[2360,200],[2490,220],[2550,200],[2590,195],[2640,210],[2690,195],[1890,165],[2060,120],[1900,115],[1970,120],[2120,170],[2160,185],[2230,145],[2320,170],[2390,165],[2490,170],[2590,170],[2670,165],[2700,140],[1905,125],[1970,100],[1980,60],[2000,95],[2060,85],[2145,70],[2180,65],[2270,60],[2340,105],[2340,90],[2440,100],[2510,100],[2545,105],[2630,90],[2700,60],[2770,60],[1960,38],[2025,30],[2070,35],[2230,55],[2320,60],[2405,50],[2490,30],[2610,40],[2670,40],[2730,25],[2760,20],[2160,20],[2210,20],
// left, lower
[30,710],[85,712],[180,722],[255,690],[345,725],[365,735],[435,690],[555,700],[735,720],[795,700],[110,680],[200,670],[300,665],[410,640],[575,680],[665,680],[710,650],[780,650],[850,630],[40,640],[60,580],[200,590],[180,570],[260,610],[380,620],[480,620],[630,640],[680,590],[740,580],[820,560],[30,530],[55,490],[125,510],[150,470],[265,520],[315,510],[460,540],[530,530],[620,580],[700,510],[850,500],[30,450],[100,445],[155,415],[260,450],[345,440],[555,435],[610,425],[670,420],[760,415],[860,420],[40,375],[115,345],[260,380],[420,355],[470,385],[540,395],[660,400],[765,370],[840,385],[60,340],[120,330],[240,315],[270,335],[410,310],[510,320],[600,340],[730,330],[790,310],[830,325],[45,280],[100,300],[195,240],[235,275],[460,310],[530,290],[660,270],[740,290],[810,290],[880,300],[45,240],[120,210],[170,215],[260,215],[380,210],[470,210],[540,225],[650,215],[770,210],[855,220],[60,180],[170,190],[280,180],[360,195],[440,180],[600,180],[650,170],[790,180],[880,160],[100,135],[170,130],[300,130],[370,125],[440,140],[540,130],[620,135],[710,130],[865,135],[60,85],[130,80],[200,90],[350,85],[430,85],[570,95],[640,80],[740,105],[830,80],[30,60],[115,70],[240,70],[320,60],[400,55],[480,70],[600,50],[720,50],[820,45],[60,25],[160,30],[260,25],[380,30],[500,30],[640,30],[780,35],
// left, upper
[35,1410],[100,1480],[130,1465],[190,1478],[330,1470],[410,1478],[500,1440],[575,1405],[680,1415],[770,1480],[835,1450],[50,1385],[80,1365],[150,1375],[250,1385],[370,1345],[520,1375],[640,1350],[800,1395],[835,1360],[100,1320],[130,1290],[250,1300],[310,1315],[485,1300],[590,1310],[700,1330],[850,1330],[70,1225],[165,1245],[295,1265],[460,1200],[540,1265],[600,1225],[780,1235],[835,1290],[90,1150],[200,1175],[325,1140],[400,1135],[500,1175],[640,1160],[820,1180],[870,1130],[60,1095],[180,1130],[350,1080],[445,1100],[565,1140],[665,1100],[800,1095],[120,1040],[230,1060],[300,1000],[415,1060],[525,1040],[670,1050],[830,1060],[170,970],[330,980],[470,1020],[610,990],[720,985],[870,970],[125,925],[220,900],[350,930],[540,960],[650,905],[780,925],[30,880],[105,860],[290,885],[430,890],[580,860],[695,880],[830,860],[200,810],[395,860],[460,810],[600,800],[720,820],[860,810]
];

// ---------- Bottom panel ----------
const bottomTitle = "Microplásticos por segundo detectados";
const bottomXLabel = "Time of Particle Detection by the Satellite";
const bottomYLabel = "Number of Particles Detected";
const seconds = d3.range(0,31);
const particleCounts = [43,45,39,48,45,60,53,59,44,34,1,4,2,4,4,2,0,2,4,3,9,22,26,28,22,24,30,21,24,18,12];
const bottomXTicks = [0,5,10,15,20,25,30];
const bottomYTicks = [0,10,20,30,40,50,60];
const detections = seconds.map((t,i)=>({t,count:particleCounts[i]}));

const calibri = "Carlito, Lato, 'Open Sans', sans-serif";
const dejavu = "'DejaVu Sans', sans-serif";
const plain = d => String(d);
const dots = (pts,fill,r) => Plot.dot(pts,{x:d=>d[0],y:d=>d[1],r,fill,stroke:"none",imageFilter:"blur(0.5px)"});

const topPlot = Plot.plot({
  width:1825,height:1060,
  marginLeft:188,marginRight:30,marginTop:56,marginBottom:141,
  style:{fontFamily:dejavu,background:"#fff",overflow:"visible"},
  x:{domain:[0,2803],label:null},
  y:{domain:[0,1504],label:null},
  marks:[
    Plot.frame({fill:"#050608",stroke:"#777",strokeWidth:1.5}),
    dots(blueDots,"#1b1b78",2.7),
    dots(greenDots,"#256a28",1.6),
    dots(redDots,"#a8271d",2.1),
    dots(yellowDots,"#c9b93f",1.9),
    Plot.rectX(whiteBands,{x1:d=>d[0],x2:d=>d[1],y1:0,y2:1490,fill:"#fff",stroke:"#ddd"}),
    Plot.rect(tanSquare,{x1:d=>d[0],x2:d=>d[1],y1:d=>d[2],y2:d=>d[3],fill:"#d2b48c"}),
    Plot.axisX({ticks:topXTicks,tickFormat:plain,tickSize:6,tickPadding:9,fontSize:18.5,color:"#444",stroke:"#555",label:null}),
    Plot.axisY({ticks:topYTicks,tickFormat:plain,tickSize:6,tickPadding:4,fontSize:18.5,color:"#444",stroke:"#555",label:null}),
    Plot.text([topTitle],{frameAnchor:"top",lineAnchor:"middle",dx:-7,dy:-18,fontSize:23.3,fill:"#444",fontFamily:dejavu}),
    Plot.text([topXLabel],{frameAnchor:"bottom",lineAnchor:"middle",dx:-51,dy:77,fontSize:47,fill:"#111",fontFamily:calibri}),
    Plot.text([topYLabel],{frameAnchor:"left",textAnchor:"middle",lineAnchor:"middle",rotate:-90,dx:-144,dy:-3,fontSize:47,fill:"#111",fontFamily:calibri})
  ]
});
document.getElementById("top").append(topPlot);

const bottomPlot = Plot.plot({
  width:1825,height:1253,
  marginLeft:293,marginRight:197,marginTop:103,marginBottom:157,
  style:{fontFamily:dejavu,background:"#fff",overflow:"visible"},
  x:{domain:[-1.52,31.53],label:null},
  y:{domain:[-3.05,62.9],label:null},
  marks:[
    Plot.gridX({ticks:bottomXTicks,stroke:"#b0b0b0",strokeOpacity:1,strokeWidth:2}),
    Plot.gridY({ticks:bottomYTicks,stroke:"#b0b0b0",strokeOpacity:1,strokeWidth:2}),
    Plot.ruleX(detections,{x:"t",y1:0,y2:"count",stroke:"#2f4fa8",strokeWidth:5.5,dx:-1}),
    Plot.ruleY([0],{x1:0,x2:30,stroke:"#111",strokeWidth:3}),
    Plot.dot(detections,{x:"t",y:"count",r:17,fill:"#ee2024",stroke:"none"}),
    Plot.frame({stroke:"#111",strokeWidth:2.5}),
    Plot.axisX({ticks:bottomXTicks,tickFormat:plain,tickSize:13,tickPadding:16,fontSize:37,color:"#222",stroke:"#111",strokeWidth:2.5,label:null}),
    Plot.axisY({ticks:bottomYTicks,tickFormat:plain,tickSize:13,tickPadding:14,fontSize:37,color:"#222",stroke:"#111",strokeWidth:2.5,label:null}),
    Plot.text([bottomTitle],{frameAnchor:"top",lineAnchor:"middle",dx:-3.5,dy:-41,fontSize:44.9,fill:"#222",fontFamily:dejavu}),
    Plot.text([bottomXLabel],{frameAnchor:"bottom",lineAnchor:"middle",dx:-98,dy:112,fontSize:47,fill:"#111",fontFamily:calibri}),
    Plot.text([bottomYLabel],{frameAnchor:"left",textAnchor:"middle",lineAnchor:"middle",rotate:-90,dx:-153,dy:-6,fontSize:47,fill:"#111",fontFamily:calibri})
  ]
});
document.getElementById("bottom").append(bottomPlot);
</script>
</body>
</html>
